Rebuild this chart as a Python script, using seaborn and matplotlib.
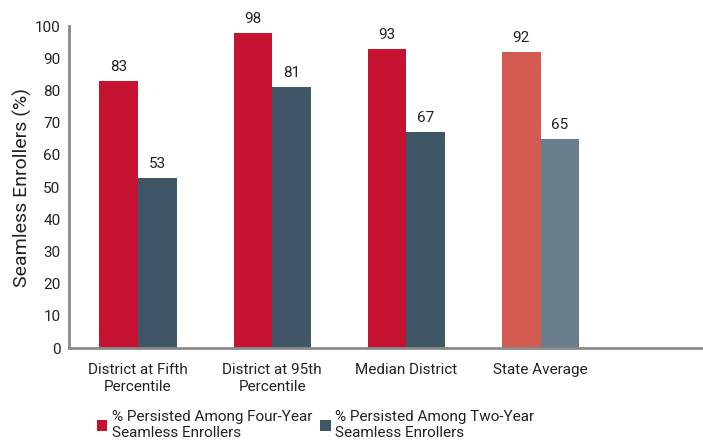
import matplotlib
matplotlib.use("Agg")
import matplotlib.pyplot as plt
import seaborn as sns
import pandas as pd
from matplotlib.patches import Patch

categories = ["District at Fifth\nPercentile", "District at 95th\nPercentile", "Median District", "State Average"]
series_names = ["% Persisted Among Four-Year\nSeamless Enrollers", "% Persisted Among Two-Year\nSeamless Enrollers"]
four_year = [83, 98, 93, 92]
two_year = [53, 81, 67, 65]
y_ticks = [0, 10, 20, 30, 40, 50, 60, 70, 80, 90, 100]

sns.set_style("white")
plt.rcParams['font.family'] = ['Roboto', 'DejaVu Sans']

df = pd.DataFrame({
    "cat": categories * 2,
    "series": [series_names[0]] * 4 + [series_names[1]] * 4,
    "val": four_year + two_year,
})

red, slate = "#C41230", "#3F5666"
red_l, slate_l = "#D25A50", "#697D8A"

fig = plt.figure(figsize=(7.03, 4.43), dpi=100)
ax = fig.add_axes([0.098, 0.214, 0.902, 0.727])
sns.barplot(data=df, x="cat", y="val", hue="series", palette=[red, slate],
            width=0.575, ax=ax, legend=False, saturation=1, linewidth=0)

# recolor state average bars
for cont, col in zip(ax.containers, [red_l, slate_l]):
    cont.patches[3].set_facecolor(col)
    ax.bar_label(cont, labels=[str(int(round(v))) for v in cont.datavalues], padding=5,
                 fontsize=11, color="#222222")

ax.set_ylim(0, 100)
ax.set_xlim(-0.515, 4.21)
ax.set_yticks(y_ticks)
ax.tick_params(axis='y', length=0, labelsize=11, colors="#222222", pad=6)
ax.tick_params(axis='x', length=0, labelsize=11, colors="#222222", pad=11)
ax.set_xlabel("")
ax.set_ylabel("Seamless Enrollers (%)", fontsize=14, color="#222222", labelpad=2)
for s in ["top", "right"]:
    ax.spines[s].set_visible(False)
for s in ["left", "bottom"]:
    ax.spines[s].set_color("#8a8a8a")
    ax.spines[s].set_linewidth(2)

handles = [Patch(facecolor=red, edgecolor="none"), Patch(facecolor=slate, edgecolor="none")]
fig.legend(handles, series_names, ncol=2, loc="lower left", bbox_to_anchor=(0.118, -0.025),
           frameon=False, fontsize=11, handlelength=0.7, handleheight=0.7, handletextpad=0.3,
           columnspacing=0.5, labelcolor="#222222")

fig.savefig("out.png", dpi=100)
